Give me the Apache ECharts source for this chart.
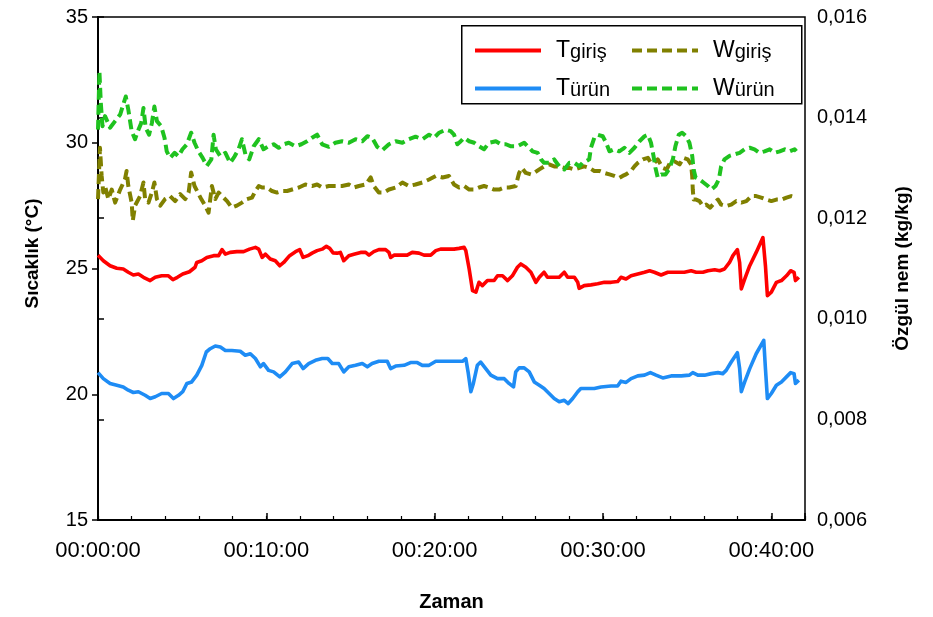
<!DOCTYPE html>
<html>
<head>
<meta charset="utf-8">
<script src="https://cdn.jsdelivr.net/npm/echarts@6/dist/echarts.min.js"></script>
<style>
  html, body { margin: 0; padding: 0; background: #fff; }
  #chart { width: 933px; height: 617px; }
</style>
</head>
<body>
<div id="chart"></div>
<script>
// Time in seconds from the start of the run; temperatures in °C; humidity in kg/kg.
const tGirisSec = [0,19,43,67,90,108,126,144,162,186,204,227,251,267,283,302,326,346,352,370,388,412,430,442,454,471,495,519,540,561,573,585,597,614,632,648,662,683,704,719,731,748,763,781,799,814,826,838,852,864,876,894,912,936,954,966,983,1001,1025,1037,1043,1055,1079,1102,1120,1144,1162,1186,1204,1221,1245,1269,1287,1305,1311,1323,1335,1347,1358,1370,1388,1412,1424,1442,1460,1477,1495,1507,1525,1543,1561,1573,1590,1602,1620,1644,1662,1674,1698,1710,1715,1733,1757,1781,1805,1829,1852,1864,1882,1900,1924,1948,1966,1983,2007,2031,2061,2090,2114,2132,2156,2174,2198,2216,2233,2251,2263,2279,2287,2293,2305,2323,2346,2370,2379,2386,2400,2418,2436,2454,2469,2481,2486,2498];
const tGirisVal = [25.53,25.31,25.11,25.01,24.98,24.85,24.74,24.78,24.65,24.52,24.65,24.71,24.71,24.56,24.65,24.78,24.87,25.05,25.24,25.31,25.44,25.51,25.51,25.75,25.57,25.64,25.67,25.67,25.77,25.84,25.77,25.44,25.57,25.38,25.31,25.11,25.24,25.51,25.67,25.75,25.44,25.51,25.61,25.71,25.77,25.88,25.80,25.62,25.61,25.64,25.31,25.51,25.57,25.64,25.64,25.53,25.67,25.75,25.75,25.64,25.44,25.53,25.53,25.53,25.64,25.61,25.53,25.53,25.71,25.77,25.77,25.77,25.80,25.84,25.71,24.98,24.12,24.06,24.45,24.32,24.52,24.52,24.71,24.71,24.52,24.71,25.05,25.18,25.05,24.85,24.45,24.65,24.85,24.65,24.65,24.65,24.85,24.65,24.65,24.45,24.21,24.32,24.35,24.39,24.45,24.45,24.48,24.65,24.58,24.71,24.78,24.85,24.91,24.85,24.74,24.85,24.85,24.85,24.91,24.85,24.85,24.91,24.95,24.91,24.98,25.24,25.51,25.75,25.24,24.19,24.58,25.11,25.64,26.23,25.11,23.92,24.06,24.45,24.52,24.71,24.91,24.85,24.52,24.65];

const tUrunSec = [0,19,43,67,90,108,126,144,168,186,204,227,251,269,287,302,317,334,352,370,386,400,418,436,454,477,507,525,543,561,579,590,608,626,648,668,692,715,731,751,775,799,819,835,858,876,894,918,942,960,977,1001,1031,1043,1061,1091,1114,1138,1156,1180,1204,1233,1269,1299,1311,1319,1329,1338,1352,1364,1382,1400,1424,1448,1465,1481,1489,1501,1519,1537,1555,1573,1590,1608,1626,1644,1662,1676,1692,1710,1721,1745,1769,1793,1829,1852,1864,1882,1900,1924,1948,1969,1989,2013,2043,2079,2108,2120,2138,2162,2186,2210,2227,2239,2257,2279,2287,2293,2305,2323,2346,2373,2379,2386,2400,2418,2436,2454,2469,2481,2486,2498];
const tUrunVal = [20.86,20.62,20.43,20.36,20.29,20.16,20.07,20.10,19.96,19.83,19.90,20.03,20.03,19.83,19.96,20.10,20.43,20.49,20.76,21.15,21.68,21.81,21.92,21.88,21.74,21.74,21.71,21.55,21.61,21.42,21.09,21.22,20.95,20.89,20.69,20.89,21.22,21.28,21.02,21.22,21.35,21.42,21.42,21.22,21.22,20.89,21.09,21.15,21.22,21.09,21.22,21.31,21.31,21.02,21.12,21.15,21.26,21.26,21.15,21.15,21.31,21.31,21.31,21.31,21.42,20.89,20.10,20.43,21.15,21.28,21.02,20.76,20.62,20.62,20.43,20.29,20.89,21.05,21.05,20.89,20.49,20.36,20.23,20.03,19.83,19.70,19.76,19.63,19.83,20.10,20.23,20.23,20.23,20.29,20.33,20.33,20.52,20.47,20.62,20.73,20.76,20.86,20.76,20.65,20.73,20.73,20.76,20.86,20.76,20.76,20.82,20.86,20.82,20.95,21.28,21.65,21.02,20.10,20.49,21.02,21.61,22.14,21.02,19.83,20.03,20.36,20.49,20.69,20.86,20.82,20.43,20.56];

const wGirisSec = [0,7,13,19,25,37,49,61,79,96,102,108,120,124,132,150,162,168,180,192,201,210,222,239,257,275,293,311,323,332,344,356,368,382,394,406,418,430,442,460,477,495,513,531,549,561,573,585,602,620,638,656,674,692,716,739,763,781,799,823,847,870,894,912,930,954,972,983,1001,1019,1037,1061,1085,1108,1132,1156,1180,1204,1228,1251,1269,1287,1305,1323,1341,1358,1376,1394,1412,1430,1448,1466,1489,1501,1511,1525,1543,1555,1573,1590,1608,1626,1644,1662,1680,1698,1716,1733,1751,1769,1787,1805,1823,1840,1858,1870,1882,1900,1912,1924,1942,1960,1971,1983,1995,2013,2027,2039,2055,2073,2087,2102,2114,2118,2120,2123,2132,2144,2156,2168,2182,2198,2210,2221,2239,2257,2275,2293,2311,2329,2346,2364,2382,2400,2418,2436,2454,2471,2489];
const wGirisVal = [0.01238,0.01340,0.01284,0.01251,0.01264,0.01238,0.01257,0.01231,0.01257,0.01277,0.01294,0.01264,0.01231,0.01195,0.01225,0.01244,0.01271,0.01238,0.01231,0.01251,0.01271,0.01238,0.01225,0.01238,0.01244,0.01234,0.01248,0.01238,0.01251,0.01291,0.01264,0.01251,0.01238,0.01225,0.01211,0.01264,0.01238,0.01251,0.01244,0.01234,0.01221,0.01225,0.01231,0.01238,0.01241,0.01254,0.01264,0.01261,0.01261,0.01254,0.01251,0.01254,0.01254,0.01257,0.01261,0.01267,0.01264,0.01267,0.01261,0.01264,0.01264,0.01264,0.01267,0.01261,0.01264,0.01267,0.01281,0.01264,0.01251,0.01251,0.01257,0.01261,0.01271,0.01264,0.01267,0.01271,0.01277,0.01284,0.01281,0.01284,0.01267,0.01261,0.01264,0.01257,0.01257,0.01261,0.01264,0.01261,0.01257,0.01257,0.01261,0.01261,0.01264,0.01290,0.01300,0.01290,0.01287,0.01290,0.01297,0.01303,0.01307,0.01303,0.01303,0.01300,0.01300,0.01297,0.01300,0.01303,0.01300,0.01294,0.01294,0.01290,0.01287,0.01284,0.01280,0.01284,0.01287,0.01294,0.01303,0.01310,0.01317,0.01320,0.01310,0.01310,0.01317,0.01300,0.01297,0.01310,0.01313,0.01307,0.01320,0.01317,0.01307,0.01284,0.01257,0.01237,0.01237,0.01234,0.01224,0.01227,0.01221,0.01231,0.01237,0.01227,0.01224,0.01227,0.01234,0.01231,0.01234,0.01244,0.01244,0.01241,0.01237,0.01234,0.01237,0.01237,0.01241,0.01244,0.01241];

const wUrunSec = [0,5,10,16,25,43,61,79,99,108,120,132,142,154,162,170,182,192,201,210,225,237,245,257,273,287,301,317,332,344,358,373,388,404,412,420,436,454,471,487,501,513,527,539,555,573,590,608,626,644,662,680,704,725,745,763,781,799,823,846,870,894,918,942,960,977,995,1013,1037,1061,1085,1108,1132,1156,1180,1198,1216,1239,1257,1269,1281,1293,1305,1323,1341,1358,1376,1394,1418,1436,1454,1472,1495,1519,1537,1549,1567,1579,1590,1608,1626,1644,1662,1680,1698,1716,1727,1739,1751,1757,1769,1781,1799,1811,1823,1840,1858,1876,1894,1912,1930,1948,1960,1971,1980,1987,1995,2007,2023,2035,2049,2058,2070,2082,2096,2108,2118,2123,2130,2144,2158,2174,2186,2201,2213,2221,2233,2251,2269,2287,2305,2323,2340,2358,2376,2394,2412,2430,2448,2466,2483,2489];
const wUrunVal = [0.01376,0.01492,0.01429,0.01383,0.01403,0.01380,0.01393,0.01406,0.01442,0.01416,0.01373,0.01357,0.01373,0.01389,0.01419,0.01380,0.01366,0.01389,0.01422,0.01393,0.01383,0.01360,0.01333,0.01320,0.01330,0.01323,0.01337,0.01347,0.01370,0.01350,0.01333,0.01320,0.01304,0.01317,0.01366,0.01337,0.01323,0.01330,0.01310,0.01323,0.01337,0.01357,0.01323,0.01317,0.01343,0.01357,0.01337,0.01343,0.01347,0.01340,0.01347,0.01350,0.01343,0.01347,0.01353,0.01360,0.01366,0.01347,0.01342,0.01350,0.01353,0.01350,0.01357,0.01353,0.01363,0.01360,0.01342,0.01335,0.01347,0.01353,0.01350,0.01357,0.01362,0.01357,0.01366,0.01360,0.01370,0.01376,0.01373,0.01366,0.01347,0.01353,0.01360,0.01353,0.01350,0.01343,0.01337,0.01350,0.01353,0.01347,0.01347,0.01343,0.01343,0.01350,0.01340,0.01333,0.01330,0.01317,0.01310,0.01310,0.01317,0.01303,0.01297,0.01310,0.01310,0.01303,0.01310,0.01313,0.01317,0.01340,0.01360,0.01366,0.01363,0.01350,0.01333,0.01337,0.01333,0.01340,0.01330,0.01340,0.01353,0.01363,0.01366,0.01350,0.01324,0.01300,0.01281,0.01287,0.01287,0.01297,0.01317,0.01343,0.01366,0.01370,0.01363,0.01350,0.01324,0.01297,0.01281,0.01277,0.01271,0.01264,0.01257,0.01264,0.01277,0.01303,0.01317,0.01324,0.01327,0.01330,0.01337,0.01340,0.01337,0.01330,0.01333,0.01337,0.01330,0.01333,0.01337,0.01333,0.01337,0.01333];

const seriesNames = ['Tgiriş', 'Türün', 'Wgiriş', 'Würün'];
const xTickLabels = ['00:00:00', '00:10:00', '00:20:00', '00:30:00', '00:40:00'];

const pairs = (xs, ys) => xs.map((x, i) => [x, ys[i]]);
const FONT = '"Liberation Sans", Arial, sans-serif';
const colors = { tGiris: '#ff0000', tUrun: '#1e8cf5', wGiris: '#808000', wUrun: '#1fc21f' };

function lineSeries(name, data, color, yAxisIndex, dashed) {
  return {
    name, type: 'line', data, yAxisIndex, xAxisIndex: 0,
    showSymbol: false, symbol: 'none', animation: false, z: 3,
    lineStyle: { color, width: dashed ? 4 : 3.6, type: dashed ? [10, 5] : 'solid', cap: 'butt', join: 'round' },
    itemStyle: { color }
  };
}

function legendFor(name, left, top) {
  return {
    data: [name], left, top, padding: 0, itemWidth: 66, itemHeight: 14, itemGap: 0,
    selectedMode: false,
    itemStyle: { opacity: 0 },
    lineStyle: { width: 4 },
    formatter: n => '{m|' + n.charAt(0) + '}{s|' + n.slice(1) + '}',
    textStyle: {
      padding: [0, 0, 0, 10],
      rich: {
        m: { fontFamily: FONT, fontSize: 23, color: '#000', verticalAlign: 'top', lineHeight: 23 },
        s: { fontFamily: FONT, fontSize: 20, color: '#000', verticalAlign: 'bottom', lineHeight: 20, padding: [9, 0, 0, 0] }
      }
    }
  };
}

const fmtTime = v => {
  if (v % 600 !== 0) return '';
  return xTickLabels[v / 600] || '';
};

const chart = echarts.init(document.getElementById('chart'), null, { renderer: 'canvas' });
chart.setOption({
  animation: false,
  backgroundColor: '#fff',
  grid: { left: 98, right: 128, top: 17, bottom: 95, show: true, borderColor: '#000', borderWidth: 1.5 },
  legend: [
    legendFor(seriesNames[0], 473, 33),
    legendFor(seriesNames[2], 630, 33),
    legendFor(seriesNames[1], 473, 71),
    legendFor(seriesNames[3], 630, 71)
  ],
  graphic: [{
    type: 'rect', left: 461, top: 25, z: 10, silent: true,
    shape: { width: 340, height: 78 },
    style: { fill: 'rgba(0,0,0,0)', stroke: '#000', lineWidth: 1.5 }
  }],
  xAxis: [{
    type: 'value', min: 0, max: 2520, interval: 600,
    name: 'Zaman', nameLocation: 'middle', nameGap: 72,
    nameTextStyle: { fontFamily: FONT, fontWeight: 'bold', fontSize: 20, color: '#000' },
    axisLine: { lineStyle: { color: '#000', width: 2 } },
    axisTick: { inside: true, length: 7, lineStyle: { color: '#000', width: 1.5 } },
    axisLabel: { formatter: fmtTime, margin: 20, fontFamily: FONT, fontSize: 22, color: '#000' },
    splitLine: { show: false }
  }, {
    type: 'value', min: 0, max: 2520, interval: 120, position: 'bottom',
    axisLine: { show: false },
    axisTick: { inside: true, length: 4, lineStyle: { color: '#000', width: 1.2 } },
    axisLabel: { show: false },
    splitLine: { show: false }
  }],
  yAxis: [{
    type: 'value', min: 15, max: 35, interval: 5, position: 'left',
    name: 'Sıcaklık (°C)', nameLocation: 'middle', nameGap: 56, nameRotate: 90,
    nameTextStyle: { fontFamily: FONT, fontWeight: 'bold', fontSize: 19, color: '#000', padding: [0, 0, 0, 30] },
    axisLine: { show: true, lineStyle: { color: '#000', width: 2 } },
    axisTick: { show: true, inside: false, length: 6, lineStyle: { color: '#000', width: 1.5 } },
    axisLabel: { margin: 10, fontFamily: FONT, fontSize: 20, color: '#000' },
    splitLine: { show: false }
  }, {
    type: 'value', min: 0.006, max: 0.016, interval: 0.002, position: 'right',
    name: 'Özgül nem (kg/kg)', nameLocation: 'middle', nameGap: 88, nameRotate: 90,
    nameTextStyle: { fontFamily: FONT, fontWeight: 'bold', fontSize: 19, color: '#000' },
    axisLine: { show: true, lineStyle: { color: '#000', width: 2 } },
    axisTick: { show: true, inside: false, length: 6, lineStyle: { color: '#000', width: 1.5 } },
    axisLabel: { margin: 12, fontFamily: FONT, fontSize: 20, color: '#000',
      formatter: v => v.toFixed(3).replace('.', ',') },
    splitLine: { show: false }
  }],
  series: [
    lineSeries(seriesNames[0], pairs(tGirisSec, tGirisVal), colors.tGiris, 0, false),
    lineSeries(seriesNames[1], pairs(tUrunSec, tUrunVal), colors.tUrun, 0, false),
    lineSeries(seriesNames[2], pairs(wGirisSec, wGirisVal), colors.wGiris, 1, true),
    lineSeries(seriesNames[3], pairs(wUrunSec, wUrunVal), colors.wUrun, 1, true)
  ]
});
</script>
</body>
</html>
